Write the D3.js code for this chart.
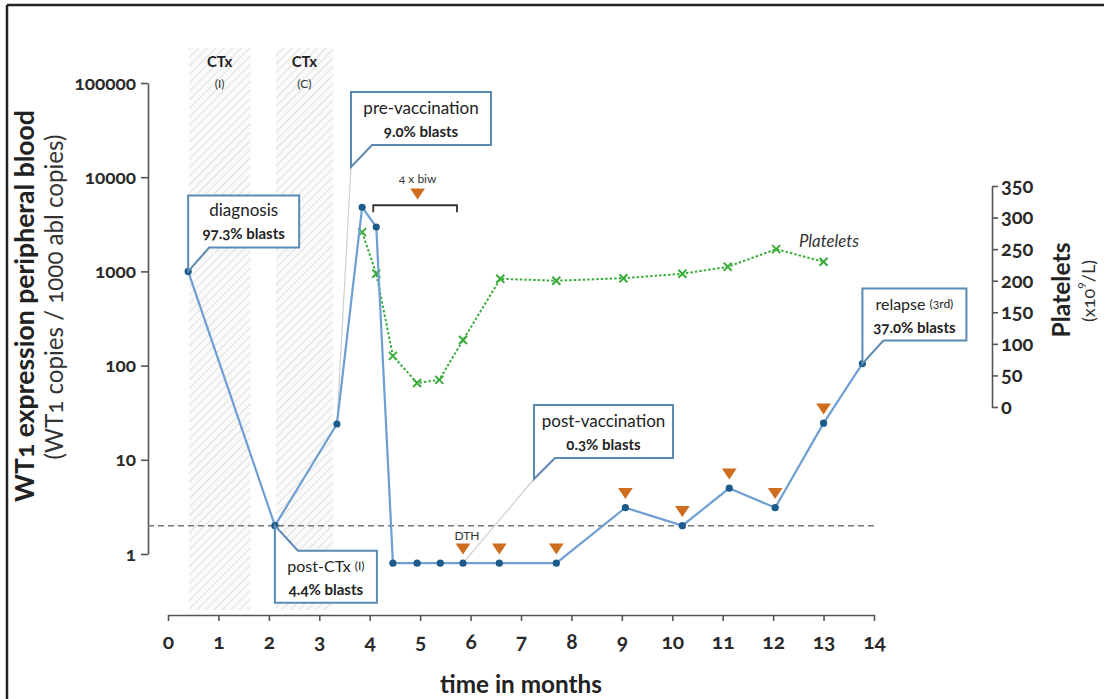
<!DOCTYPE html>
<html><head><meta charset="utf-8">
<script src="https://cdn.jsdelivr.net/npm/d3@7"></script>
<style>
html,body{margin:0;padding:0;background:#fff;}
svg{display:block;font-family:Lato,"Open Sans",sans-serif;font-variant-numeric:oldstyle-nums;}
</style></head>
<body>
<svg id="chart" width="1104" height="699"></svg>
<script>
// ---------- data ----------
const wt1Months = [0.4, 2.12, 3.35, 3.85, 4.13, 4.46, 4.94, 5.4, 5.85, 6.57, 7.7, 9.07, 10.2, 11.13, 12.04, 13.0, 13.77];
const wt1Values = [1000, 2, 24, 4800, 2960, 0.8, 0.8, 0.8, 0.8, 0.8, 0.8, 3.1, 2, 5, 3.1, 24.5, 105];
const plateletMonths = [3.85, 4.13, 4.46, 4.94, 5.38, 5.85, 6.59, 7.7, 9.03, 10.2, 11.1, 12.06, 13.0];
const plateletValues = [277, 211, 81, 38, 43, 106, 203, 200, 204, 211, 222, 250, 230];
const vaccinationIdx = [8, 9, 10, 11, 12, 13, 14, 15];   // WT1 samples with a vaccination marker
const biwMonth = 4.95;
const biwRange = [4.07, 5.73];
const ctxBands = [[0.42, 1.63], [2.14, 3.27]];
const ctxLabels = [["CTx", "(I)"], ["CTx", "(C)"]];
const threshold = 2;
const xTicks = [0,1,2,3,4,5,6,7,8,9,10,11,12,13,14];
const yLeftTicks = [1, 10, 100, 1000, 10000, 100000];
const yRightTicks = [0, 50, 100, 150, 200, 250, 300, 350];

// ---------- setup ----------
const svg = d3.select("#chart");
const x = d3.scaleLinear().domain([0, 14]).range([168, 874]);
const yL = d3.scaleLog().domain([1, 100000]).range([554, 83]);
const yR = d3.scaleLinear().domain([0, 350]).range([407, 186]);

const AX = "#555", BLUE = "#6d9fd3", DOT = "#1d5b8b", GREEN = "#3aad3a", ORANGE = "#cf6d1f", BOX = "#5b8ab3", TXT = "#222";

function fit(sel, w) {
  const n = sel.node(); const fs = parseFloat(sel.attr("font-size"));
  const cur = n.getComputedTextLength();
  if (cur > 0) sel.attr("font-size", (fs * w / cur).toFixed(2));
  return sel;
}

// frame (top and left only)
svg.append("line").attr("x1", 7).attr("x2", 1104).attr("y1", 5).attr("y2", 5).attr("stroke", "#222").attr("stroke-width", 2.5);
svg.append("line").attr("x1", 7).attr("x2", 7).attr("y1", 5).attr("y2", 699).attr("stroke", "#222").attr("stroke-width", 2.5);

// hatch pattern
const defs = svg.append("defs");
const pat = defs.append("pattern").attr("id", "hatch").attr("patternUnits", "userSpaceOnUse")
  .attr("width", 6).attr("height", 6).attr("patternTransform", "rotate(45)");
pat.append("rect").attr("width", 6).attr("height", 6).attr("fill", "#fafafa");
pat.append("line").attr("x1", 0).attr("x2", 0).attr("y1", 0).attr("y2", 6).attr("stroke", "#d9d9d9").attr("stroke-width", 1.6);

svg.append("g").selectAll("rect").data(ctxBands).join("rect")
  .attr("x", d => x(d[0])).attr("width", d => x(d[1]) - x(d[0]))
  .attr("y", 48).attr("height", 562).attr("fill", "url(#hatch)");

ctxBands.forEach((b, i) => {
  const cx = (x(b[0]) + x(b[1])) / 2;
  svg.append("text").attr("x", cx).attr("y", 61).attr("text-anchor", "middle").attr("dominant-baseline", "central")
    .attr("font-weight", 700).attr("font-size", 15).attr("fill", TXT).text(ctxLabels[i][0]);
  svg.append("text").attr("x", cx).attr("y", 83).attr("text-anchor", "middle").attr("dominant-baseline", "central")
    .attr("font-size", 12).attr("fill", "#333").text(ctxLabels[i][1]);
});

// axes
function styleAxis(g) {
  g.selectAll(".domain").attr("stroke", AX).attr("stroke-width", 1.6);
  g.selectAll(".tick line").attr("stroke", AX).attr("stroke-width", 1.6);
  g.selectAll(".tick text").attr("fill", "#2a2a2a").attr("font-family", "Lato, sans-serif");
}
const gL = svg.append("g").attr("transform", "translate(148,0)")
  .call(d3.axisLeft(yL).tickValues(yLeftTicks).tickFormat(d3.format("d")).tickSize(7).tickSizeOuter(0).tickPadding(5));
styleAxis(gL);
gL.selectAll(".tick text").attr("font-size", 19).attr("font-weight", 700);

const gB = svg.append("g").attr("transform", "translate(0,615)")
  .call(d3.axisBottom(x).tickValues(xTicks).tickFormat(d3.format("d")).tickSize(6).tickSizeOuter(0).tickPadding(13));
styleAxis(gB);
gB.selectAll(".tick text").attr("font-size", 21).attr("font-weight", 700);

const gR = svg.append("g").attr("transform", "translate(992,0)")
  .call(d3.axisRight(yR).tickValues(yRightTicks).tickSize(6).tickSizeOuter(0).tickPadding(3));
styleAxis(gR);
gR.selectAll(".tick text").attr("font-size", 20).attr("font-weight", 700);

// axis titles
fit(svg.append("text").attr("transform", "translate(24,306) rotate(-90)").attr("text-anchor", "middle").attr("dominant-baseline", "central")
  .attr("font-weight", 700).attr("font-size", 22).attr("fill", TXT).text("WT1 expression peripheral blood"), 392);
fit(svg.append("text").attr("transform", "translate(53,297) rotate(-90)").attr("text-anchor", "middle").attr("dominant-baseline", "central")
  .attr("font-size", 19).attr("fill", "#333").text("(WT1 copies / 1000 abl copies)"), 325);
fit(svg.append("text").attr("x", 521).attr("y", 683).attr("text-anchor", "middle").attr("dominant-baseline", "central")
  .attr("font-weight", 700).attr("font-size", 21).attr("fill", TXT).text("time in months"), 162);
fit(svg.append("text").attr("transform", "translate(1060,290) rotate(-90)").attr("text-anchor", "middle").attr("dominant-baseline", "central")
  .attr("font-weight", 700).attr("font-size", 20).attr("fill", TXT).text("Platelets"), 95);
const unit = svg.append("text").attr("transform", "translate(1088,291) rotate(-90)").attr("text-anchor", "middle").attr("dominant-baseline", "central")
  .attr("font-size", 18).attr("fill", "#333");
unit.append("tspan").text("(x10");
unit.append("tspan").attr("baseline-shift", "super").attr("font-size", 12).text("9");
unit.append("tspan").text("/L)");

// threshold
svg.append("line").attr("x1", 148).attr("x2", 876).attr("y1", yL(threshold)).attr("y2", yL(threshold))
  .attr("stroke", "#777").attr("stroke-width", 1.5).attr("stroke-dasharray", "6,4");

// leader lines for callouts
const wtPts = wt1Months.map((m, i) => [x(m), yL(wt1Values[i])]);
svg.append("line").attr("x1", 351).attr("y1", 167).attr("x2", wtPts[2][0]).attr("y2", wtPts[2][1]).attr("stroke", "#cfcfcf").attr("stroke-width", 1.2);
svg.append("line").attr("x1", 534).attr("y1", 479).attr("x2", wtPts[8][0]).attr("y2", wtPts[8][1]).attr("stroke", "#cfcfcf").attr("stroke-width", 1.2);

// platelets
const plPts = plateletMonths.map((m, i) => [x(m), yR(plateletValues[i])]);
svg.append("path").attr("d", d3.line()(plPts)).attr("fill", "none").attr("stroke", GREEN)
  .attr("stroke-width", 2).attr("stroke-dasharray", "2.5,2");
svg.append("g").selectAll("path").data(plPts).join("path")
  .attr("d", d => `M${d[0]-4},${d[1]-4}L${d[0]+4},${d[1]+4}M${d[0]-4},${d[1]+4}L${d[0]+4},${d[1]-4}`)
  .attr("stroke", GREEN).attr("stroke-width", 2).attr("fill", "none");
fit(svg.append("text").attr("x", 799).attr("y", 240).attr("dominant-baseline", "central").attr("font-style", "italic")
  .attr("font-size", 15).attr("fill", "#333").text("Platelets"), 60);

// WT1 line
svg.append("path").attr("d", d3.line()(wtPts)).attr("fill", "none").attr("stroke", BLUE).attr("stroke-width", 2.2).attr("stroke-linejoin", "round");
svg.append("g").selectAll("circle").data(wtPts).join("circle")
  .attr("cx", d => d[0]).attr("cy", d => d[1]).attr("r", 3.6).attr("fill", DOT);

// vaccinations
const tri = d3.symbol(d3.symbolTriangle, 85);
svg.append("g").selectAll("path").data(vaccinationIdx).join("path")
  .attr("d", tri).attr("fill", ORANGE)
  .attr("transform", i => `translate(${wtPts[i][0]},${wtPts[i][1] - 16}) rotate(180) scale(1.05,0.9)`);
const biwY = yL(4800);
svg.append("path").attr("d", tri).attr("fill", ORANGE).attr("transform", `translate(${x(biwMonth)},${biwY - 15}) rotate(180) scale(1.05,0.9)`);
svg.append("path").attr("d", `M${x(biwRange[0])},${biwY + 5}V${biwY - 2}H${x(biwRange[1])}V${biwY + 5}`)
  .attr("fill", "none").attr("stroke", "#333").attr("stroke-width", 1.8);
svg.append("text").attr("x", x(biwMonth)).attr("y", biwY - 29).attr("text-anchor", "middle").attr("dominant-baseline", "central")
  .attr("font-size", 12).attr("fill", "#333").text("4 x biw");
svg.append("text").attr("x", wtPts[8][0] + 4).attr("y", wtPts[8][1] - 28).attr("text-anchor", "middle").attr("dominant-baseline", "central")
  .attr("font-size", 12).attr("fill", "#333").text("DTH");

// callouts
function callout(tip, box, tail, lines) {
  const [x0, y0, x1, y1] = box;
  let d;
  if (tail === "bottom") d = `M${x0},${y0}H${x1}V${y1}H${x0 + 21}L${tip[0]},${tip[1]}L${x0},${y1}Z`;
  else d = `M${tip[0]},${tip[1]}L${x0 + 23},${y0}H${x1}V${y1}H${x0}Z`;
  svg.append("path").attr("d", d).attr("fill", "#fff").attr("stroke", BOX).attr("stroke-width", 2).attr("stroke-linejoin", "miter");
  const cx = (x0 + x1) / 2, cy = (y0 + y1) / 2;
  lines.forEach((ln, k) => {
    const t = svg.append("text").attr("x", cx).attr("y", cy + (k === 0 ? -12 : 12)).attr("text-anchor", "middle")
      .attr("dominant-baseline", "central").attr("fill", TXT);
    ln.forEach(seg => t.append("tspan").attr("font-size", seg.s).attr("font-weight", seg.b ? 700 : 400).text(seg.t));
  });
}
callout(wtPts[0], [wtPts[0][0], wtPts[0][1] - 76, wtPts[0][0] + 111, wtPts[0][1] - 24], "bottom",
  [[{t: "diagnosis", s: 17}], [{t: "97.3% blasts", s: 15, b: 1}]]);
callout([351, 167], [351, 92, 491, 145], "bottom",
  [[{t: "pre-vaccination", s: 17}], [{t: "9.0% blasts", s: 15, b: 1}]]);
callout(wtPts[1], [wtPts[1][0], wtPts[1][1] + 25, wtPts[1][0] + 102, wtPts[1][1] + 77], "top",
  [[{t: "post-CTx ", s: 16}, {t: "(I)", s: 12}], [{t: "4.4% blasts", s: 15, b: 1}]]);
callout([534, 479], [534, 405, 673, 458], "bottom",
  [[{t: "post-vaccination", s: 17}], [{t: "0.3% blasts", s: 15, b: 1}]]);
callout(wtPts[16], [wtPts[16][0], wtPts[16][1] - 75, wtPts[16][0] + 104, wtPts[16][1] - 23], "bottom",
  [[{t: "relapse ", s: 16}, {t: "(3rd)", s: 12}], [{t: "37.0% blasts", s: 15, b: 1}]]);
</script>
</body></html>
